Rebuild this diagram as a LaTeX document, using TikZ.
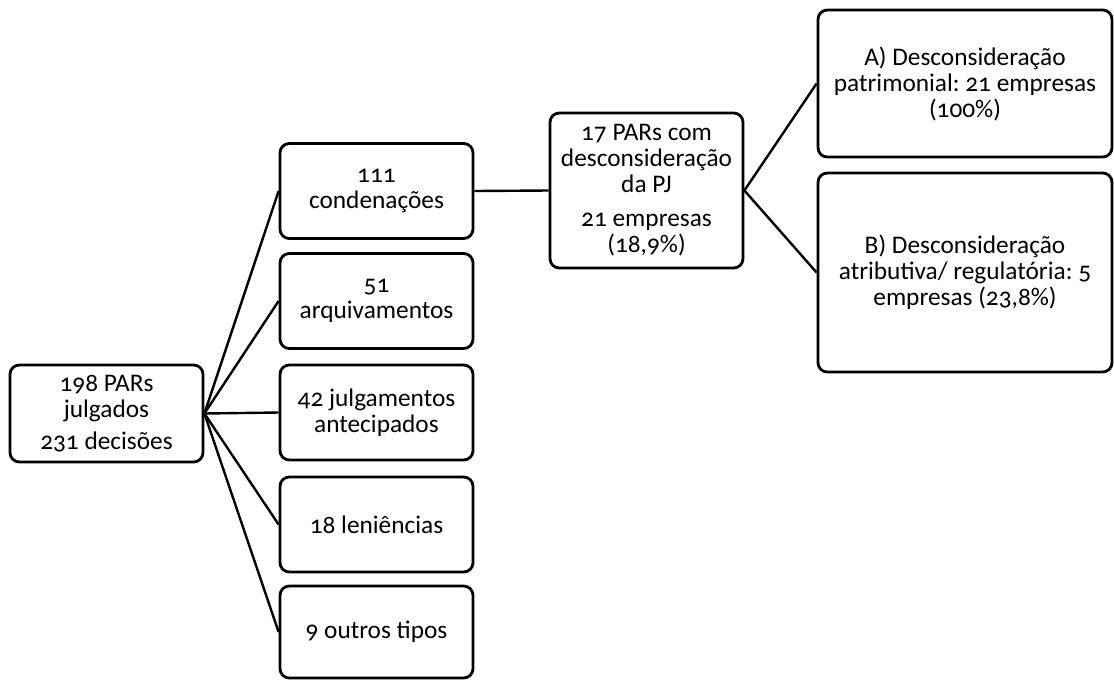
\documentclass[tikz,border=0pt]{standalone}
\usepackage{fontspec}
\setmainfont{Carlito}[Numbers=OldStyle]
\frenchspacing
\begin{document}
\tikzset{every picture/.style={line width=0.75pt}}
\tikzset{
	box/.style={draw, rounded corners=7pt, line width=2.1pt, align=center, inner sep=2pt,
		font=\fontsize{19}{19.5}\selectfont},
	link/.style={line width=1.8pt}
}
\begin{tikzpicture}[x=0.75pt,y=0.75pt,yscale=-1,xscale=1]
	\useasboundingbox (0,0) rectangle (1114,679);

	% Root
	\node [box, minimum width=144.75pt, minimum height=72.75pt] (root) at (106.5,413.5) {198 PARs\\julgados\\[5pt]231 decisões};

	% Decision types
	\node [box, minimum width=144.75pt, minimum height=71.25pt] (cond) at (376.5,191) {111\\condenações};
	\node [box, minimum width=144.75pt, minimum height=71.25pt] (arq) at (376.5,301) {51\\arquivamentos};
	\node [box, minimum width=144.75pt, minimum height=71.25pt] (jul) at (376.5,412.5) {42 julgamentos\\antecipados};
	\node [box, minimum width=144.75pt, minimum height=71.25pt] (len) at (376.5,524.5) {18 leniências};
	\node [box, minimum width=144.75pt, minimum height=69pt] (out) at (376.5,632) {9 outros tipos};

	% Disregard of legal entity
	\node [box, minimum width=144.75pt, minimum height=116.25pt] (desc) at (646.5,190.5) {17 PARs com\\desconsideração\\da PJ\\[6pt]21 empresas\\(18,9\%)};
	\node [box, minimum width=220.5pt, minimum height=110.25pt] (desA) at (965,83.5) {A) Desconsideração\\patrimonial: 21 empresas\\(100\%)};
	\node [box, minimum width=220.5pt, minimum height=149.25pt] (desB) at (965,272.5) {B) Desconsideração\\atributiva/ regulatória: 5\\empresas (23,8\%)};

	% Connectors
	\foreach \n in {cond,arq,jul,len,out}
		\draw [link] (root.east) -- (\n.west);
	\draw [link] (cond.east) -- (desc.west);
	\draw [link] (desc.east) -- (desA.west);
	\draw [link] (desc.east) -- (desB.west);

\end{tikzpicture}
\end{document}
